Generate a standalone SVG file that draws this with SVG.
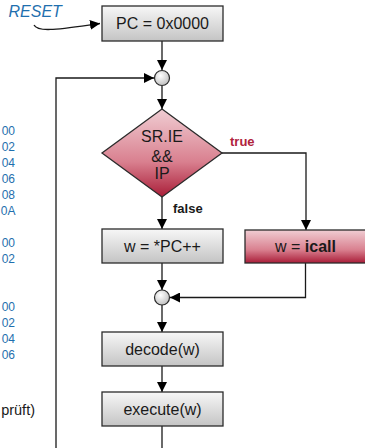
<svg xmlns="http://www.w3.org/2000/svg" width="365" height="448" viewBox="0 0 365 448">
<defs>
<linearGradient id="gGray" x1="0" y1="0" x2="0" y2="1">
<stop offset="0" stop-color="#f7f7f7"/>
<stop offset="1" stop-color="#c4c4c4"/>
</linearGradient>
<linearGradient id="gRed" x1="0" y1="0" x2="0" y2="1">
<stop offset="0" stop-color="#f0cdd3"/>
<stop offset="0.6" stop-color="#d9808f"/>
<stop offset="1" stop-color="#a91d38"/>
</linearGradient>
<radialGradient id="gCircle" cx="0.4" cy="0.35" r="0.7">
<stop offset="0" stop-color="#ffffff"/>
<stop offset="1" stop-color="#bdbdbd"/>
</radialGradient>
<marker id="arr" viewBox="0 0 10 10" refX="10" refY="5" markerWidth="10" markerHeight="10" markerUnits="userSpaceOnUse" orient="auto">
<path d="M0,0 L10,5 L0,10 Z" fill="#000"/>
</marker>
</defs>
<style>
.box{fill:url(#gGray);stroke:#2b2b2b;stroke-width:1.3}
.red{fill:url(#gRed);stroke:#2b2b2b;stroke-width:1.3}
.circ{fill:url(#gCircle);stroke:#2b2b2b;stroke-width:1.2}
.lbl{font-family:"Liberation Sans",Arial,sans-serif;font-size:16px;fill:#1a1a1a;text-anchor:middle}
.conn{fill:none;stroke:#1a1a1a;stroke-width:1.3}
.addr{font-family:"Liberation Sans",Arial,sans-serif;font-size:12px;fill:#1f6fae;text-anchor:end}
.note{font-family:"Liberation Sans",Arial,sans-serif;font-size:14.5px;fill:#1a1a1a;text-anchor:end}
.tag{font-family:"Liberation Sans",Arial,sans-serif;font-size:13px;font-weight:bold}
</style>

<g id="side-text">
<text class="addr" x="15" y="134.5">00</text>
<text class="addr" x="15" y="150.5">02</text>
<text class="addr" x="15" y="166.5">04</text>
<text class="addr" x="15" y="183">06</text>
<text class="addr" x="15" y="198.5">08</text>
<text class="addr" x="15.5" y="214.5">0A</text>
<text class="addr" x="15" y="247">00</text>
<text class="addr" x="15" y="262.5">02</text>
<text class="addr" x="15" y="310.5">00</text>
<text class="addr" x="15" y="326.5">02</text>
<text class="addr" x="15" y="343">04</text>
<text class="addr" x="15" y="358.5">06</text>
<text class="note" x="35" y="415">prüft)</text>
</g>

<g id="connectors">
<path class="conn" d="M34,25 C38,33 60,29 100,23.5" marker-end="url(#arr)"/>
<path class="conn" d="M162,41 V70" marker-end="url(#arr)"/>
<path class="conn" d="M56,448 V78 H154" marker-end="url(#arr)"/>
<path class="conn" d="M162,86 V109" marker-end="url(#arr)"/>
<path class="conn" d="M222,153 H306 V230" marker-end="url(#arr)"/>
<path class="conn" d="M162,197 V229" marker-end="url(#arr)"/>
<path class="conn" d="M162,263 V290" marker-end="url(#arr)"/>
<path class="conn" d="M305.5,263 V297.5 H170" marker-end="url(#arr)"/>
<path class="conn" d="M162,305 V332" marker-end="url(#arr)"/>
<path class="conn" d="M162,366 V392" marker-end="url(#arr)"/>
<path class="conn" d="M162,426 V448"/>
</g>

<g id="reset">
<text x="8.5" y="17" font-family="'Liberation Sans',Arial,sans-serif" font-size="16" font-style="italic" fill="#1f6fae">RESET</text>
</g>

<g id="pc-init">
<rect class="box" x="102" y="6" width="121" height="35"/>
<text class="lbl" x="162.5" y="29">PC = 0x0000</text>
</g>

<g id="merge1">
<circle class="circ" cx="162" cy="78" r="7.5"/>
</g>

<g id="decision">
<polygon class="red" points="162,109 222,153 162,197 102,153"/>
<text class="lbl" x="162" y="142">SR.IE</text>
<text class="lbl" x="162" y="162">&amp;&amp;</text>
<text class="lbl" x="162" y="178.5">IP</text>
<text class="tag" x="230" y="146" fill="#b0233c">true</text>
<text class="tag" x="173" y="212.5" fill="#1a1a1a">false</text>
</g>

<g id="fetch">
<rect class="box" x="102" y="229" width="121" height="34"/>
<text class="lbl" x="162.5" y="251.5">w = *PC++</text>
</g>

<g id="icall">
<rect class="red" x="245" y="230" width="121" height="33"/>
<text class="lbl" x="305.5" y="252">w = <tspan font-weight="bold">icall</tspan></text>
</g>

<g id="merge2">
<circle class="circ" cx="162" cy="297.5" r="7.5"/>
</g>

<g id="decode">
<rect class="box" x="102" y="332" width="121" height="34"/>
<text class="lbl" x="162.5" y="354.5">decode(w)</text>
</g>

<g id="execute">
<rect class="box" x="102" y="392" width="121" height="34"/>
<text class="lbl" x="162.5" y="414.5">execute(w)</text>
</g>
</svg>
